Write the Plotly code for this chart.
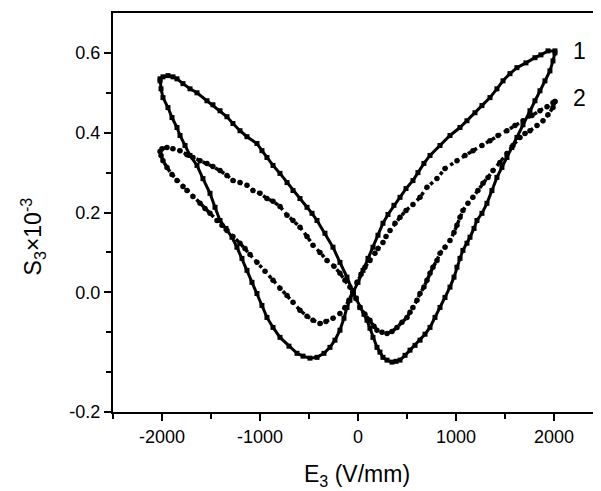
import plotly.graph_objects as go

# Curve 1 (large butterfly loop): field E3 (V/mm), strain S3 (x10^-3)
e1 = [2010, 1939, 1867, 1806, 1714, 1622, 1551, 1480, 1418, 1347, 1265, 1194, 1112, 1041, 939, 837, 735, 673, 612, 561,
      490, 429, 367, 306, 255, 204, 153, 102, 51, 0, -51,
      -82, -112, -143, -184, -235, -286, -347, -418, -490, -561, -622, -704, -796, -867, -929, -980, -1031,
      -1082, -1133, -1184, -1235, -1286, -1347, -1408, -1459, -1510, -1582, -1643, -1714, -1765, -1816, -1847, -1898,
      -1939, -1990, -2010, -2020,
      -2020, -1990, -1939, -1888, -1847,
      -1786, -1714, -1643, -1541, -1480, -1408, -1337, -1276, -1204, -1133, -1031, -980, -929, -867, -796, -724,
      -663, -592, -520, -469, -418, -337, -255, -184, -112, -51,
      -20, 20, 61, 92, 122, 153, 194, 224, 255, 296, 347, 388, 429, 480, 531, 582, 633, 684, 735, 786, 837, 888,
      939, 980, 1010, 1041, 1071, 1112, 1143, 1184, 1214,
      1265, 1316, 1367, 1418, 1469, 1520, 1571, 1622, 1684, 1755, 1806, 1857, 1908, 1959, 1990, 2010]
s1 = [0.605, 0.605, 0.595, 0.588, 0.575, 0.563, 0.548, 0.530, 0.510, 0.488, 0.468, 0.450, 0.430, 0.413, 0.393, 0.368,
      0.343, 0.323, 0.300, 0.280, 0.260, 0.238, 0.218, 0.195, 0.173, 0.143, 0.113, 0.085, 0.055, 0.025, 0.0,
      -0.020, -0.038, -0.065, -0.095, -0.120, -0.138, -0.153, -0.163, -0.165, -0.160, -0.153, -0.135, -0.113, -0.088,
      -0.063, -0.033, -0.003,
      0.025, 0.055, 0.085, 0.113, 0.138, 0.160, 0.180, 0.213, 0.248, 0.285, 0.318, 0.343, 0.368, 0.393, 0.413, 0.438,
      0.463, 0.488, 0.510, 0.530,
      0.535, 0.540, 0.543, 0.540, 0.535,
      0.523, 0.510, 0.500, 0.480, 0.470, 0.455, 0.440, 0.423, 0.405, 0.390, 0.373, 0.355, 0.338, 0.318, 0.298, 0.275,
      0.255, 0.235, 0.213, 0.198, 0.180, 0.148, 0.113, 0.075, 0.038, 0.0,
      -0.015, -0.038, -0.055, -0.070, -0.090, -0.113, -0.138, -0.150, -0.163, -0.170, -0.175, -0.173, -0.170, -0.158,
      -0.145, -0.133, -0.120, -0.105, -0.088, -0.063, -0.038, -0.013,
      0.013, 0.038, 0.063, 0.085, 0.105, 0.123, 0.138, 0.160, 0.180,
      0.198, 0.223, 0.255, 0.288, 0.313, 0.338, 0.363, 0.388, 0.420, 0.455, 0.480, 0.505, 0.530, 0.555, 0.580, 0.600]

# Curve 2 (smaller butterfly loop)
e2 = [2010, 1990, 1929, 1857, 1776, 1684, 1602, 1520, 1429, 1347, 1265, 1173, 1092, 1010, 888, 806, 704, 633, 561, 490,
      429, 378, 327, 286, 255, 204, 173, 122, 71, 31, -10, -51,
      -92, -133, -184, -255, -327, -388, -459, -520, -592, -663, -724, -796, -867, -949, -1031, -1102, -1153, -1204,
      -1276, -1337, -1388, -1439, -1510, -1561, -1612, -1684, -1745, -1786, -1847, -1898, -1949, -1990, -2010, -2020,
      -2000, -1949, -1888, -1816, -1745, -1684, -1612, -1541, -1480, -1408, -1337, -1276, -1204, -1133, -1071, -1000,
      -929, -867, -796, -724, -663, -592, -520, -459, -388, -316, -245, -184, -133, -82, -51,
      -20, 20, 71, 122, 163, 194, 245, 296, 347, 398, 449, 500, 531, 561, 602, 633, 673, 704, 735, 765, 806, 837, 888,
      939, 980, 1010, 1041, 1071, 1122, 1173, 1224, 1276, 1327, 1378, 1449, 1520, 1582, 1653, 1704, 1755, 1827, 1888,
      1939, 1990, 2010]
s2 = [0.478, 0.475, 0.465, 0.455, 0.443, 0.430, 0.418, 0.405, 0.393, 0.380, 0.368, 0.355, 0.343, 0.330, 0.310, 0.285,
      0.263, 0.238, 0.220, 0.205, 0.188, 0.173, 0.155, 0.140, 0.125, 0.110, 0.098, 0.080, 0.063, 0.045, 0.025, 0.0,
      -0.020, -0.038, -0.053, -0.065, -0.073, -0.078, -0.070, -0.060, -0.045, -0.025, -0.008, 0.010, 0.030, 0.053,
      0.075, 0.095, 0.110, 0.123, 0.140, 0.155, 0.168, 0.180, 0.198, 0.210, 0.223, 0.240, 0.255, 0.265, 0.280, 0.295,
      0.313, 0.330, 0.343, 0.353,
      0.360, 0.363, 0.360, 0.355, 0.345, 0.338, 0.330, 0.323, 0.315, 0.305, 0.293, 0.280, 0.275, 0.268, 0.255, 0.248,
      0.235, 0.228, 0.215, 0.193, 0.180, 0.163, 0.140, 0.118, 0.100, 0.080, 0.065, 0.048, 0.030, 0.013, 0.0,
      -0.015, -0.038, -0.055, -0.070, -0.085, -0.095, -0.100, -0.103, -0.098, -0.088, -0.075, -0.063, -0.050, -0.038,
      -0.020, -0.003, 0.013, 0.030, 0.048, 0.063, 0.080, 0.098, 0.113, 0.130, 0.150, 0.168, 0.188, 0.205, 0.223,
      0.238, 0.255, 0.273, 0.288, 0.305, 0.325, 0.348, 0.368, 0.388, 0.398, 0.405, 0.418, 0.430, 0.445, 0.463, 0.478]

x_tick_vals = [-2000, -1000, 0, 1000, 2000]
x_tick_text = ["-2000", "-1000", "0", "1000", "2000"]
y_tick_vals = [-0.3, 0.0, 0.2, 0.4, 0.6]
y_tick_text = ["-0.2", "0.0", "0.2", "0.4", "0.6"]
curve_labels = ["1", "2"]

FONT = "Arial, Liberation Sans, sans-serif"

fig = go.Figure()
fig.add_trace(go.Scatter(
    x=e1, y=s1, mode="lines+markers",
    line=dict(color="black", width=3),
    marker=dict(symbol="square", size=5, color="black"),
    showlegend=False, hoverinfo="skip"))
fig.add_trace(go.Scatter(
    x=e2, y=s2, mode="lines+markers",
    line=dict(color="black", width=3.5, dash="dot"),
    marker=dict(symbol="circle", size=5.5, color="black"),
    showlegend=False, hoverinfo="skip"))

fig.add_annotation(x=2265, y=s1[0], text=curve_labels[0], showarrow=False,
                   font=dict(family=FONT, size=23, color="black"), xanchor="center", yanchor="middle")
fig.add_annotation(x=2265, y=s2[0] + 0.01, text=curve_labels[1], showarrow=False,
                   font=dict(family=FONT, size=23, color="black"), xanchor="center", yanchor="middle")

# axis titles
fig.add_annotation(xref="paper", yref="paper", x=-0.164, y=0.44,
                   text="S<sub>3</sub>×10<sup>-3</sup>", textangle=-90, showarrow=False,
                   font=dict(family=FONT, size=23, color="black"), xanchor="center", yanchor="middle")
fig.add_annotation(xref="paper", yref="paper", x=0.5, y=-0.16,
                   text="E<sub>3</sub> (V/mm)", showarrow=False,
                   font=dict(family=FONT, size=23, color="black"), xanchor="center", yanchor="middle")

fig.update_layout(
    width=593, height=483,
    margin=dict(l=105, r=0, t=5, b=79),
    paper_bgcolor="white", plot_bgcolor="white",
    font=dict(family=FONT, size=18, color="black"),
    xaxis=dict(range=[-2500, 2480], tickvals=x_tick_vals, ticktext=x_tick_text,
               ticks="outside", ticklen=7, tickwidth=1.5, tickcolor="black",
               minor=dict(dtick=500, tick0=-2500, ticks="outside", ticklen=5, tickwidth=1.5, tickcolor="black"),
               showline=True, linecolor="black", linewidth=2, mirror=True,
               showgrid=False, zeroline=False, tickfont=dict(size=18)),
    yaxis=dict(range=[-0.3, 0.7], tickvals=y_tick_vals, ticktext=y_tick_text,
               ticks="outside", ticklen=7, tickwidth=1.5, tickcolor="black",
               minor=dict(tickvals=[-0.2, -0.1, 0.1, 0.3, 0.5], ticks="outside", ticklen=5, tickwidth=1.5,
                          tickcolor="black"),
               showline=True, linecolor="black", linewidth=2,
               showgrid=False, zeroline=False, tickfont=dict(size=18)),
)

fig.write_html("out.html")
